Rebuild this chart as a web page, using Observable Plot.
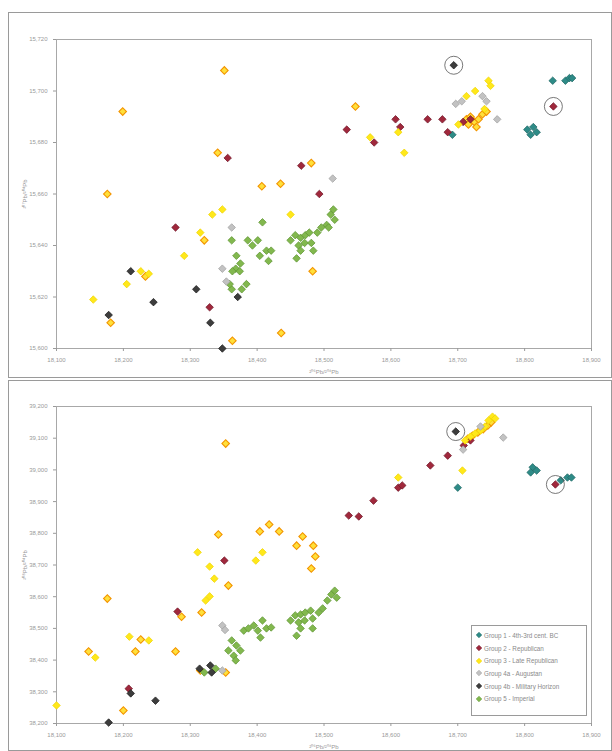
<!DOCTYPE html>
<html><head><meta charset="utf-8">
<script src="https://cdn.jsdelivr.net/npm/d3@7"></script>
<script src="https://cdn.jsdelivr.net/npm/@observablehq/plot@0.6"></script>
<style>
body{margin:0;background:#fff;font-family:"Liberation Sans",Arial,sans-serif;}
.panel{position:absolute;left:8px;width:602px;border:1px solid #9a9a9a;background:#fff;}
#legend{position:absolute;left:471px;top:625px;width:114px;height:86px;border:1px solid #9a9a9a;background:#fff;font-size:6.3px;color:#8a8a8a;}
#legend .row{display:flex;align-items:center;height:12.7px;padding-left:4px;}
#legend svg{margin-right:2px;}
</style></head>
<body>
<div id="top" class="panel" style="top:12px;height:364px"></div>
<div id="bot" class="panel" style="top:380px;height:369px"></div>
<div id="legend"></div>
<script>
// ---- categories / styles ----
const groupNames = ["Group 1 - 4th-3rd cent. BC","Group 2 - Republican","Group 3 - Late Republican","Group 4a - Augustan","Group 4b - Military Horizon","Group 5 - Imperial"];
const groupFill = ["#2e8b87","#a0283c","#ffe81a","#c2c2c2","#3d3d3d","#82b84e"];
const groupStroke = ["#216865","#701728","#efd400","#a0a0a0","#1c1c1c","#5f9433"];
const refFill = "#ffe03a", refStroke = "#f39500";

// tick values
const xTicks = [18.1,18.2,18.3,18.4,18.5,18.6,18.7,18.8,18.9];
const y207Ticks = [15.60,15.62,15.64,15.66,15.68,15.70,15.72];
const y208Ticks = [38.2,38.3,38.4,38.5,38.6,38.7,38.8,38.9,39.0,39.1,39.2];

// ---- 206Pb/204Pb vs 207Pb/204Pb (top) ----
const g1_207 = [[18.692,15.683],[18.804,15.685],[18.809,15.683],[18.813,15.686],[18.818,15.684],[18.842,15.704],[18.861,15.704],[18.867,15.705],[18.871,15.705]];
const g2_207 = [[18.278,15.647],[18.356,15.674],[18.329,15.616],[18.466,15.671],[18.493,15.660],[18.534,15.685],[18.575,15.680],[18.607,15.689],[18.614,15.686],[18.655,15.689],[18.677,15.689],[18.685,15.684],[18.708,15.688],[18.719,15.689],[18.843,15.694]];
const g3_207 = [[18.155,15.619],[18.205,15.625],[18.226,15.630],[18.238,15.629],[18.291,15.636],[18.315,15.645],[18.333,15.652],[18.348,15.654],[18.450,15.652],[18.569,15.682],[18.620,15.676],[18.611,15.684],[18.701,15.687],[18.726,15.700],[18.746,15.704],[18.749,15.702],[18.740,15.693],[18.713,15.698]];
const g4a_207 = [[18.348,15.631],[18.354,15.626],[18.362,15.647],[18.513,15.666],[18.697,15.695],[18.706,15.696],[18.737,15.698],[18.743,15.696],[18.759,15.689]];
const g4b_207 = [[18.694,15.710],[18.211,15.630],[18.245,15.618],[18.178,15.613],[18.309,15.623],[18.330,15.610],[18.371,15.620],[18.348,15.600]];
const g5_207 = [[18.362,15.642],[18.369,15.636],[18.375,15.633],[18.368,15.631],[18.363,15.630],[18.374,15.630],[18.386,15.642],[18.393,15.640],[18.401,15.642],[18.408,15.649],[18.404,15.636],[18.414,15.638],[18.421,15.638],[18.417,15.634],[18.362,15.623],[18.377,15.623],[18.384,15.625],[18.359,15.625],
  [18.450,15.642],[18.457,15.644],[18.465,15.643],[18.472,15.644],[18.478,15.645],[18.462,15.640],[18.471,15.641],[18.481,15.641],[18.490,15.645],[18.496,15.647],[18.504,15.648],[18.510,15.652],[18.514,15.654],[18.516,15.650],[18.507,15.647],[18.459,15.635],[18.484,15.638],[18.465,15.638]];
const ref_207 = [[18.351,15.708],[18.199,15.692],[18.341,15.676],[18.176,15.660],[18.547,15.694],[18.407,15.663],[18.435,15.664],[18.481,15.672],[18.321,15.642],[18.233,15.628],[18.181,15.610],[18.363,15.603],[18.436,15.606],[18.483,15.630],
  [18.713,15.689],[18.719,15.690],[18.725,15.688],[18.731,15.689],[18.737,15.691],[18.743,15.692],[18.728,15.686],[18.716,15.687]];
const circled_207 = [[18.694,15.710],[18.843,15.694]];

// ---- 206Pb/204Pb vs 208Pb/204Pb (bottom) ----
const g1_208 = [[18.700,38.944],[18.812,39.008],[18.818,38.998],[18.809,38.992],[18.854,38.967],[18.864,38.976],[18.870,38.976]];
const g2_208 = [[18.846,38.954],[18.351,38.714],[18.281,38.553],[18.208,38.310],[18.537,38.856],[18.552,38.853],[18.574,38.903],[18.611,38.944],[18.617,38.951],[18.659,39.014],[18.685,39.045],[18.709,39.077],[18.719,39.093]];
const g3_208 = [[18.100,38.257],[18.158,38.408],[18.209,38.474],[18.238,38.462],[18.311,38.740],[18.329,38.695],[18.336,38.657],[18.323,38.588],[18.329,38.601],[18.398,38.714],[18.408,38.740],[18.611,38.976],[18.707,38.998],[18.711,39.093],[18.719,39.105],[18.726,39.115],[18.734,39.124],[18.741,39.137],[18.746,39.156],[18.752,39.168],[18.756,39.162]];
const g4a_208 = [[18.348,38.509],[18.352,38.495],[18.348,38.367],[18.768,39.102],[18.734,39.137],[18.708,39.064]];
const g4b_208 = [[18.697,39.121],[18.178,38.203],[18.211,38.295],[18.248,38.272],[18.330,38.383],[18.332,38.361],[18.314,38.373]];
const g5_208 = [[18.362,38.462],[18.369,38.446],[18.375,38.430],[18.365,38.414],[18.357,38.430],[18.380,38.493],[18.387,38.500],[18.395,38.509],[18.401,38.493],[18.408,38.525],[18.414,38.500],[18.421,38.503],[18.405,38.471],[18.368,38.399],[18.321,38.361],[18.338,38.373],
  [18.450,38.525],[18.457,38.541],[18.465,38.544],[18.472,38.550],[18.480,38.556],[18.462,38.519],[18.471,38.525],[18.483,38.531],[18.492,38.550],[18.498,38.563],[18.505,38.588],[18.511,38.607],[18.516,38.619],[18.519,38.597],[18.459,38.477],[18.483,38.500],[18.465,38.500]];
const ref_208 = [[18.353,39.083],[18.342,38.796],[18.418,38.828],[18.404,38.806],[18.433,38.806],[18.468,38.790],[18.459,38.761],[18.484,38.761],[18.487,38.727],[18.481,38.689],[18.176,38.594],[18.148,38.427],[18.218,38.427],[18.226,38.465],[18.278,38.427],[18.317,38.550],[18.357,38.635],[18.287,38.537],[18.353,38.361],[18.315,38.367],[18.200,38.241],
  [18.722,39.108],[18.730,39.118],[18.738,39.128],[18.745,39.140],[18.750,39.150],[18.715,39.098]];
const circled_208 = [[18.697,39.121],[18.846,38.954]];

const fmt = d => d3.format(".3f")(d).replace(".", ",");

function rows(sets){
  const out = [];
  sets.forEach(([arr, fill, stroke, sw]) => arr.forEach(([x,y]) => out.push({x, y, fill, stroke, sw})));
  return out;
}

function panel({groups, ref, circled, yDomain, yTicks, yLabel, height, mt, mb}){
  const data = rows([[ref, refFill, refStroke, 1.1], [groups[5], groupFill[5], groupStroke[5], 0.7],
    ...groups.slice(0,5).map((g,i)=>[g, groupFill[i], groupStroke[i], 0.7])]);
  return Plot.plot({
    width: 602, height,
    marginLeft: 47, marginRight: 20, marginTop: mt, marginBottom: mb,
    style: {fontSize: "6px", color: "#9a9a9a", fontFamily: "Liberation Sans, Arial, sans-serif", background: "transparent"},
    x: {domain: [18.1, 18.9]},
    y: {domain: yDomain},
    marks: [
      Plot.frame({stroke: "#a8a8a8"}),
      Plot.axisX({ticks: xTicks, tickFormat: fmt, tickSize: 3, label: "²⁰⁶Pb/²⁰⁴Pb", labelAnchor: "center", labelArrow: "none", labelOffset: 25}),
      Plot.axisY({ticks: yTicks, tickFormat: fmt, tickSize: 3, label: yLabel, labelAnchor: "center", labelArrow: "none", labelOffset: 34}),
      Plot.dot(data, {x: "x", y: "y", symbol: "square", rotate: 45, r: 3.0, fill: d => d.fill, stroke: d => d.stroke, strokeWidth: d => d.sw}),
      Plot.dot(circled, {x: d => d[0], y: d => d[1], r: 9, fill: "none", stroke: "#555", strokeWidth: 0.8})
    ]
  });
}

document.getElementById("top").append(panel({
  groups: [g1_207, g2_207, g3_207, g4a_207, g4b_207, g5_207], ref: ref_207, circled: circled_207,
  yDomain: [15.60, 15.72], yTicks: y207Ticks, yLabel: "²⁰⁷Pb/²⁰⁴Pb", height: 364, mt: 26, mb: 29
}));
document.getElementById("bot").append(panel({
  groups: [g1_208, g2_208, g3_208, g4a_208, g4b_208, g5_208], ref: ref_208, circled: circled_208,
  yDomain: [38.2, 39.2], yTicks: y208Ticks, yLabel: "²⁰⁸Pb/²⁰⁴Pb", height: 369, mt: 25, mb: 27
}));

const leg = document.getElementById("legend");
leg.style.paddingTop = "3px";
groupNames.forEach((name, i) => {
  const row = document.createElement("div");
  row.className = "row";
  row.innerHTML = `<svg width="6" height="6"><rect x="1" y="1" width="4" height="4" transform="rotate(45 3 3)" fill="${groupFill[i]}" stroke="${groupStroke[i]}" stroke-width="0.5"></rect></svg><span>${name}</span>`;
  leg.append(row);
});
</script>
</body></html>
